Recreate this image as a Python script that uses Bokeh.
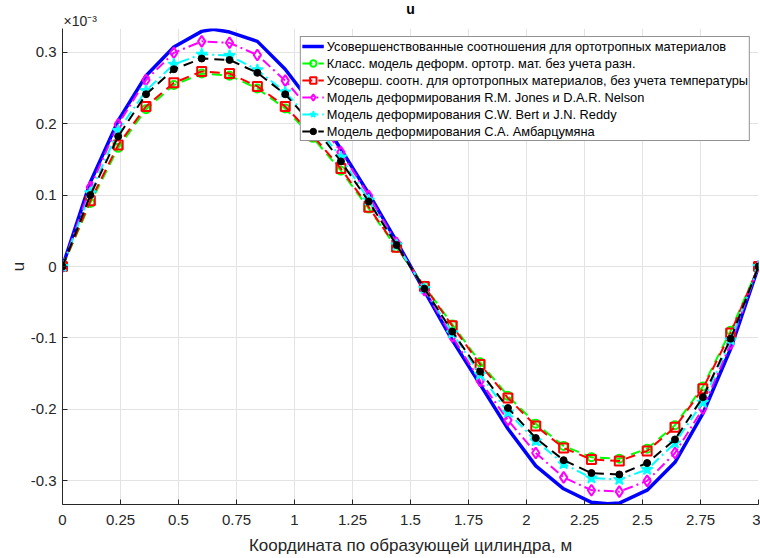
from bokeh.plotting import figure
from bokeh.models import Legend, LegendItem, Title, FixedTicker, Range1d
from bokeh.embed import file_html
from bokeh.resources import INLINE

# ---------------- data (u in units of 1e-3) ----------------
x = [0.00, 0.12, 0.24, 0.36, 0.48, 0.60, 0.72, 0.84, 0.96, 1.08, 1.20, 1.32, 1.44,
     1.56, 1.68, 1.80, 1.92, 2.04, 2.16, 2.28, 2.40, 2.52, 2.64, 2.76, 2.88, 3.00]

x_blue = [0.00, 0.12, 0.24, 0.36, 0.48, 0.60, 0.65, 0.72, 0.84, 0.96, 1.08, 1.20, 1.32, 1.44,
          1.56, 1.68, 1.80, 1.92, 2.04, 2.16, 2.28, 2.35, 2.40, 2.52, 2.64, 2.76, 2.88, 3.00]
u_improved = [0, 0.118, 0.204, 0.267, 0.307, 0.329, 0.332, 0.328, 0.315, 0.276, 0.225, 0.164, 0.102, 0.035,
              -0.034, -0.103, -0.165, -0.227, -0.279, -0.311, -0.330, -0.332, -0.331, -0.313, -0.274,
              -0.206, -0.115, 0]

u_classic = [0, 0.089, 0.166, 0.220, 0.254, 0.270, 0.267, 0.249, 0.221, 0.180, 0.134, 0.081, 0.026,
             -0.027, -0.081, -0.134, -0.181, -0.220, -0.251, -0.267, -0.269, -0.255, -0.222, -0.168,
             -0.090, 0]
u_no_temp = [0, 0.092, 0.170, 0.224, 0.257, 0.273, 0.270, 0.252, 0.224, 0.183, 0.137, 0.083, 0.027,
             -0.028, -0.083, -0.137, -0.184, -0.223, -0.254, -0.270, -0.272, -0.258, -0.225, -0.171,
             -0.093, 0]
u_jones = [0, 0.111, 0.199, 0.261, 0.299, 0.315, 0.313, 0.296, 0.260, 0.215, 0.160, 0.099, 0.033,
           -0.033, -0.098, -0.160, -0.215, -0.261, -0.295, -0.313, -0.315, -0.300, -0.261, -0.199,
           -0.108, 0]
u_bert = [0, 0.103, 0.190, 0.246, 0.283, 0.297, 0.295, 0.275, 0.244, 0.202, 0.153, 0.093, 0.030,
          -0.031, -0.093, -0.151, -0.204, -0.244, -0.276, -0.296, -0.298, -0.284, -0.247, -0.190,
          -0.103, 0]
u_ambar = [0, 0.100, 0.182, 0.241, 0.276, 0.291, 0.289, 0.271, 0.241, 0.198, 0.147, 0.091, 0.030,
           -0.031, -0.091, -0.147, -0.198, -0.240, -0.271, -0.289, -0.291, -0.275, -0.242, -0.183,
           -0.101, 0]

labels = [
    "Усовершенствованные соотношения для ортотропных материалов",
    "Класс. модель деформ. ортотр. мат. без учета разн.",
    "Усоверш. соотн. для ортотропных материалов, без учета температуры",
    "Модель деформирования R.M. Jones и D.A.R. Nelson",
    "Модель деформирования C.W. Bert и J.N. Reddy",
    "Модель деформирования С.А. Амбарцумяна",
]

x_ticks = [0, 0.25, 0.5, 0.75, 1, 1.25, 1.5, 1.75, 2, 2.25, 2.5, 2.75, 3]
x_tick_labels = ["0", "0.25", "0.5", "0.75", "1", "1.25", "1.5", "1.75", "2", "2.25", "2.5", "2.75", "3"]
y_ticks = [-0.3, -0.2, -0.1, 0, 0.1, 0.2, 0.3]
y_tick_labels = ["-0.3", "-0.2", "-0.1", "0", "0.1", "0.2", "0.3"]

Y_MIN, Y_MAX = -0.333, 0.333

FONT = "Liberation Sans"
AX = "#262626"

p = figure(width=760, height=558, output_backend="svg", toolbar_location=None,
           x_range=Range1d(0, 3), y_range=Range1d(Y_MIN, Y_MAX),
           min_border_left=62, min_border_right=2, min_border_top=28, min_border_bottom=54)
p.outline_line_color = None
p.background_fill_color = "white"

# title "u" (outermost) and the exponent marker just above the frame
p.title.text = "u"
p.title.align = "center"
p.title.text_font = FONT
p.title.text_font_size = "14px"
p.title.text_font_style = "bold"
p.title.text_color = "black"
p.title.standoff = -12
p.add_layout(Title(text="×10⁻³", align="left", text_font=FONT, text_font_size="14px",
                   text_font_style="normal", text_color=AX, standoff=0, offset=1), "above")

for ax in (p.xaxis[0], p.yaxis[0]):
    ax.axis_line_color = AX
    ax.major_tick_line_color = AX
    ax.major_tick_in = 5
    ax.major_tick_out = 0
    ax.minor_tick_line_color = None
    ax.major_label_text_font = FONT
    ax.major_label_text_font_size = "15px"
    ax.major_label_text_color = AX
    ax.axis_label_text_font = FONT
    ax.axis_label_text_font_style = "normal"
    ax.axis_label_text_color = AX

p.xaxis.ticker = FixedTicker(ticks=x_ticks)
p.xaxis.major_label_overrides = {t: l for t, l in zip(x_ticks, x_tick_labels)}
p.yaxis.ticker = FixedTicker(ticks=y_ticks)
p.yaxis.major_label_overrides = {t: l for t, l in zip(y_ticks, y_tick_labels)}
p.xaxis.major_label_standoff = 10
p.yaxis.major_label_standoff = 6
p.xaxis.axis_label = "Координата по образующей цилиндра, м"
p.xaxis.axis_label_text_font_size = "17px"
p.xaxis.axis_label_standoff = 8
p.yaxis.axis_label = "u"
p.yaxis.axis_label_text_font_size = "17px"
p.yaxis.axis_label_standoff = 0

p.xgrid.ticker = FixedTicker(ticks=x_ticks)
p.ygrid.ticker = FixedTicker(ticks=y_ticks)
p.grid.grid_line_color = "#e3e3e3"
p.grid.grid_line_width = 1

# ---------------- series ----------------
r_blue = p.line(x_blue, u_improved, line_color="#0000ff", line_width=3.5)

r_g_l = p.line(x, u_classic, line_color="#00ff00", line_width=2, line_dash="10 6")
r_g_m = p.scatter(x, u_classic, marker="circle", size=8, line_color="#00ff00", line_width=2,
                  fill_color=None)

r_r_l = p.line(x, u_no_temp, line_color="#ff0000", line_width=2, line_dash="10 6")
r_r_m = p.scatter(x, u_no_temp, marker="square", size=9, line_color="#ff0000", line_width=2,
                  fill_color=None)

r_m_l = p.line(x, u_jones, line_color="#ff00ff", line_width=2, line_dash="10 4 2 4")
r_m_m = p.scatter(x, u_jones, marker="diamond", size=11, line_color="#ff00ff", line_width=2,
                  fill_color=None)

r_c_l = p.line(x, u_bert, line_color="#00ffff", line_width=2, line_dash="10 4 2 4")
r_c_m = p.scatter(x, u_bert, marker="star", size=12, line_color="#00ffff", line_width=1.5,
                  fill_color="#00ffff")

r_k_l = p.line(x, u_ambar, line_color="black", line_width=2, line_dash="10 6")
r_k_m = p.scatter(x, u_ambar, marker="circle", size=7, line_color="black", fill_color="black")

legend = Legend(items=[
    LegendItem(label=labels[0], renderers=[r_blue]),
    LegendItem(label=labels[1], renderers=[r_g_l, r_g_m]),
    LegendItem(label=labels[2], renderers=[r_r_l, r_r_m]),
    LegendItem(label=labels[3], renderers=[r_m_l, r_m_m]),
    LegendItem(label=labels[4], renderers=[r_c_l, r_c_m]),
    LegendItem(label=labels[5], renderers=[r_k_l, r_k_m]),
], location="top_right")
legend.margin = 8
legend.padding = 1
legend.spacing = 1
legend.label_height = 16
legend.glyph_height = 16
legend.glyph_width = 22
legend.label_standoff = 3
legend.label_text_font = FONT
legend.label_text_font_size = "12.8px"
legend.label_text_color = "black"
legend.border_line_color = AX
legend.border_line_width = 1
legend.background_fill_color = "white"
legend.background_fill_alpha = 1
p.add_layout(legend)

open("out.html", "w").write(file_html(p, INLINE))
